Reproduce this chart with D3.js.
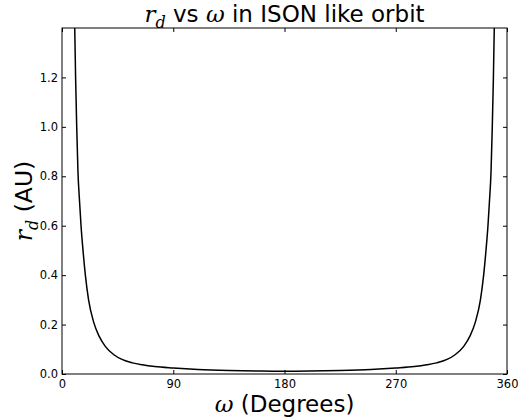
<!DOCTYPE html>
<html>
<head>
<meta charset="utf-8">
<script src="https://cdn.jsdelivr.net/npm/d3@7"></script>
<style>
  body { margin: 0; background: #fff; }
  text { font-family: "DejaVu Sans", sans-serif; fill: #000; }
  .math { font-family: "DejaVu Serif", serif; font-style: italic; }
</style>
</head>
<body>
<script>
// values
const omega = [9.5, 10.3, 11.0, 11.9, 12.9, 14.3, 15.4, 17, 18.9, 21.5, 25.6, 30, 35, 42, 48.5, 57, 65, 75, 90, 110, 135, 160, 180,
  200, 225, 250, 270, 285, 295, 303, 311.5, 318, 325, 330, 334.4, 338.5, 341.1, 343, 344.6, 345.7, 347.1, 348.1, 349.0, 349.7, 350.5];
const rd = [1.55, 1.40, 1.2, 1.0, 0.82, 0.69, 0.6, 0.5, 0.4, 0.3, 0.21, 0.153, 0.112, 0.078, 0.059, 0.045, 0.037, 0.030, 0.024, 0.018, 0.014, 0.012, 0.0115,
  0.012, 0.014, 0.018, 0.024, 0.030, 0.037, 0.045, 0.059, 0.078, 0.112, 0.153, 0.21, 0.3, 0.4, 0.5, 0.6, 0.69, 0.82, 1.0, 1.2, 1.40, 1.55];
const xTicks = [0, 90, 180, 270, 360];
const yTicks = [0.0, 0.2, 0.4, 0.6, 0.8, 1.0, 1.2];

const width = 520, height = 419;
const margin = {top: 28, right: 13, bottom: 45, left: 62};
const innerW = width - margin.left - margin.right;
const innerH = height - margin.top - margin.bottom;

const svg = d3.select("body").append("svg")
  .attr("width", width)
  .attr("height", height);

const g = svg.append("g").attr("transform", `translate(${margin.left},${margin.top})`);

const x = d3.scaleLinear().domain([0, 360]).range([0, innerW]);
const y = d3.scaleLinear().domain([0, 1.4]).range([innerH, 0]);

g.append("clipPath").attr("id", "clip")
  .append("rect").attr("width", innerW).attr("height", innerH);

const points = omega.map((w, i) => [w, rd[i]]);
g.append("path")
  .datum(points)
  .attr("clip-path", "url(#clip)")
  .attr("fill", "none")
  .attr("stroke", "#000")
  .attr("stroke-width", 1.5)
  .attr("d", d3.line().x(d => x(d[0])).y(d => y(d[1])).curve(d3.curveMonotoneX));

// axes, ticks pointing inward like old matplotlib
const tickLen = 4;
function styleAxis(sel) {
  sel.select(".domain").remove();
  sel.selectAll(".tick line").attr("stroke", "#000").attr("stroke-width", 1);
  sel.selectAll("text").style("font-size", "11.5px").style("font-family", "DejaVu Sans");
}

g.append("g").attr("transform", `translate(0,${innerH})`)
  .call(d3.axisBottom(x).tickValues(xTicks).tickSize(-tickLen).tickPadding(6).tickFormat(d3.format("d")))
  .call(styleAxis);
g.append("g")
  .call(d3.axisTop(x).tickValues(xTicks).tickSize(-tickLen).tickFormat(""))
  .call(styleAxis);
g.append("g")
  .call(d3.axisLeft(y).tickValues(yTicks).tickSize(-tickLen).tickPadding(4).tickFormat(d3.format(".1f")))
  .call(styleAxis);
g.append("g").attr("transform", `translate(${innerW},0)`)
  .call(d3.axisRight(y).tickValues(yTicks).tickSize(-tickLen).tickFormat(""))
  .call(styleAxis);

g.append("rect")
  .attr("width", innerW).attr("height", innerH)
  .attr("fill", "none").attr("stroke", "#000").attr("stroke-width", 1);

// title
const title = svg.append("text")
  .attr("x", margin.left + innerW / 2)
  .attr("y", 22)
  .attr("text-anchor", "middle")
  .style("font-size", "23px");
title.append("tspan").attr("class", "math").text("r");
title.append("tspan").attr("class", "math").attr("dy", 6).style("font-size", "16px").text("d");
title.append("tspan").attr("dy", -6).text(" vs ");
title.append("tspan").attr("class", "math").text("ω");
title.append("tspan").text(" in ISON like orbit");

// x label
const xl = svg.append("text")
  .attr("x", margin.left + innerW / 2)
  .attr("y", 412)
  .attr("text-anchor", "middle")
  .style("font-size", "23px");
xl.append("tspan").attr("class", "math").text("ω");
xl.append("tspan").text(" (Degrees)");

// y label
const yl = svg.append("text")
  .attr("transform", `translate(32,${margin.top + innerH / 2}) rotate(-90)`)
  .attr("text-anchor", "middle")
  .style("font-size", "23.5px");
yl.append("tspan").attr("class", "math").text("r");
yl.append("tspan").attr("class", "math").attr("dy", 6).style("font-size", "16px").text("d");
yl.append("tspan").attr("dy", -6).text(" (AU)");
</script>
</body>
</html>
